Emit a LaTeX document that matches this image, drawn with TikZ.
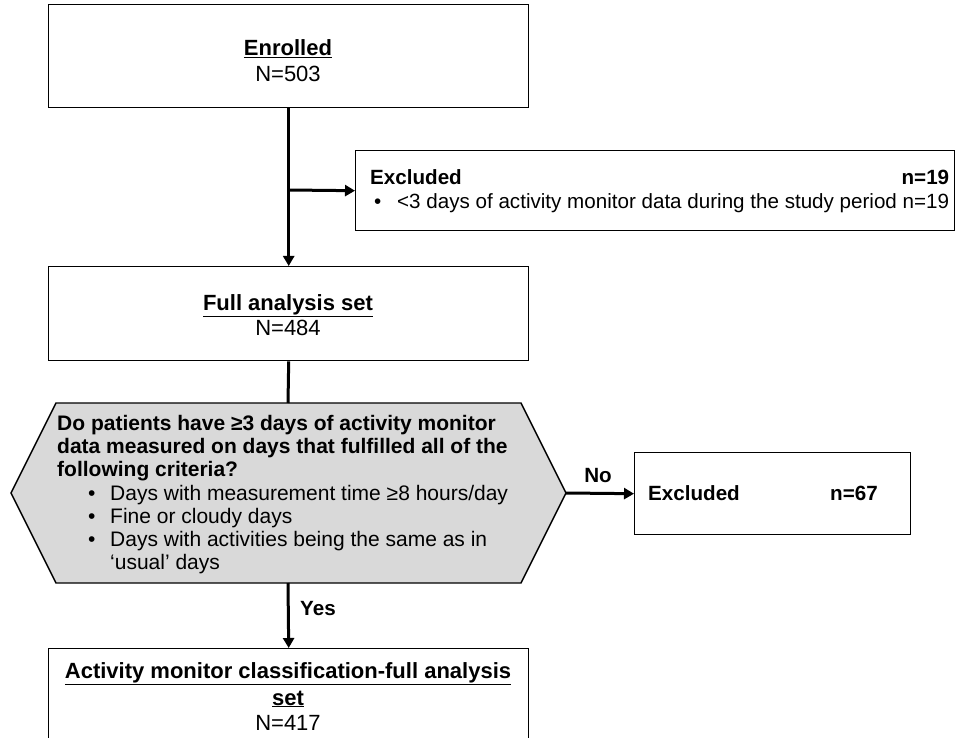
\documentclass[tikz,border=0pt]{standalone}
\usepackage{fontspec}
\setmainfont{Liberation Sans}
\usetikzlibrary{arrows.meta}
\definecolor{hexfill}{HTML}{D9D9D9}
\begin{document}
\begin{tikzpicture}[x=1pt,y=-1pt,
  boxr/.style={draw=black, line width=1.4pt, fill=white, inner sep=0pt},
  bigtxt/.style={font=\fontsize{22}{26}\selectfont, inner sep=0pt},
  smtxt/.style={font=\fontsize{20.6}{23}\selectfont, inner sep=0pt},
  hxtxt/.style={font=\fontsize{21}{23}\selectfont, inner sep=0pt},
  conn/.style={draw=black, line width=3pt},
  arr/.style={conn, -{Triangle[length=10pt,width=11pt]}},
]
\useasboundingbox (0,0) rectangle (956,738);
\begin{scope}
\clip (0,0) rectangle (956,738);
% boxes
\node[boxr, minimum width=480, minimum height=103, anchor=north west] (enr) at (48,4) {};
\node[boxr, minimum width=599, minimum height=80, anchor=north west] (ex1) at (355,150) {};
\node[boxr, minimum width=480, minimum height=94, anchor=north west] (full) at (48,266) {};
\node[boxr, minimum width=276, minimum height=82, anchor=north west] (ex2) at (634,452) {};
\node[boxr, minimum width=480, minimum height=120, anchor=north west] (act) at (48,648) {};
% hexagon
\coordinate (hL) at (11,493);
\coordinate (hTL) at (56,403);
\coordinate (hTR) at (521,403);
\coordinate (hR) at (566,493);
\coordinate (hBR) at (521,583);
\coordinate (hBL) at (56,583);
\coordinate (hT) at (288,403);
\coordinate (hB) at (288,583);
\draw[line width=1.4pt, fill=hexfill] (hL) -- (hTL) -- (hTR) -- (hR) -- (hBR) -- (hBL) -- cycle;
% connectors
\coordinate (br) at (288,190);
\draw[arr] (enr.south) -- (full.north);
\draw[arr] (br) -- (ex1.west);
\draw[conn] (full.south) -- (hT);
\draw[arr] (hR) -- (ex2.west);
\draw[arr] (hB) -- (act.north);
% texts: left boxes
\node[bigtxt, anchor=base] (enrt) at (288,56) {\underline{\textbf{Enrolled}}};
\node[bigtxt, anchor=base] (enrn) at (288,82) {N=503};
\node[bigtxt, anchor=base] (fullt) at (288,310) {\underline{\textbf{Full analysis set}}};
\node[bigtxt, anchor=base] (fulln) at (288,335) {N=484};
\node[bigtxt, anchor=base] (actt) at (288,678) {\underline{\textbf{Activity monitor classification-full analysis}}};
\node[bigtxt, anchor=base] (acts) at (288,705) {\underline{\textbf{set}}};
\node[bigtxt, anchor=base] (actn) at (288,730) {N=417};
% excluded 1
\node[smtxt, anchor=base west] (ex1t) at (370,185) {\textbf{Excluded}};
\node[smtxt, anchor=base west] (ex1b) at (370,209) {\makebox[27pt][l]{\hspace{4pt}•}<3 days of activity monitor data during the study period n=19};
\node[smtxt, anchor=base east] (ex1n) at (ex1b.east |- ex1t.base) {\textbf{n=19}};
% excluded 2
\node[smtxt, anchor=base west] (ex2t) at (648,500) {\textbf{Excluded}};
\node[smtxt, anchor=base west] (ex2n) at (830,500) {\textbf{n=67}};
% hexagon text
\node[hxtxt, anchor=base west] (q1) at (57,430) {\textbf{Do patients have ≥3 days of activity monitor}};
\node[hxtxt, anchor=base west] (q2) at (57,453) {\textbf{data measured on days that fulfilled all of the}};
\node[hxtxt, anchor=base west] (q3) at (57,476) {\textbf{following criteria?}};
\node[hxtxt, anchor=base west] (q4) at (57,500) {\makebox[53pt][l]{\hspace{31pt}•}Days with measurement time ≥8 hours/day};
\node[hxtxt, anchor=base west] (q5) at (57,523) {\makebox[53pt][l]{\hspace{31pt}•}Fine or cloudy days};
\node[hxtxt, anchor=base west] (q6) at (57,546) {\makebox[53pt][l]{\hspace{31pt}•}Days with activities being the same as in};
\node[hxtxt, anchor=base west] (q7) at (57,569) {\makebox[53pt][l]{}‘usual’ days};
% labels
\node[smtxt, anchor=base] (no) at (598,482) {\textbf{No}};
\node[smtxt, anchor=base west] (yes) at (300,615) {\textbf{Yes}};
\end{scope}
\end{tikzpicture}
\end{document}
